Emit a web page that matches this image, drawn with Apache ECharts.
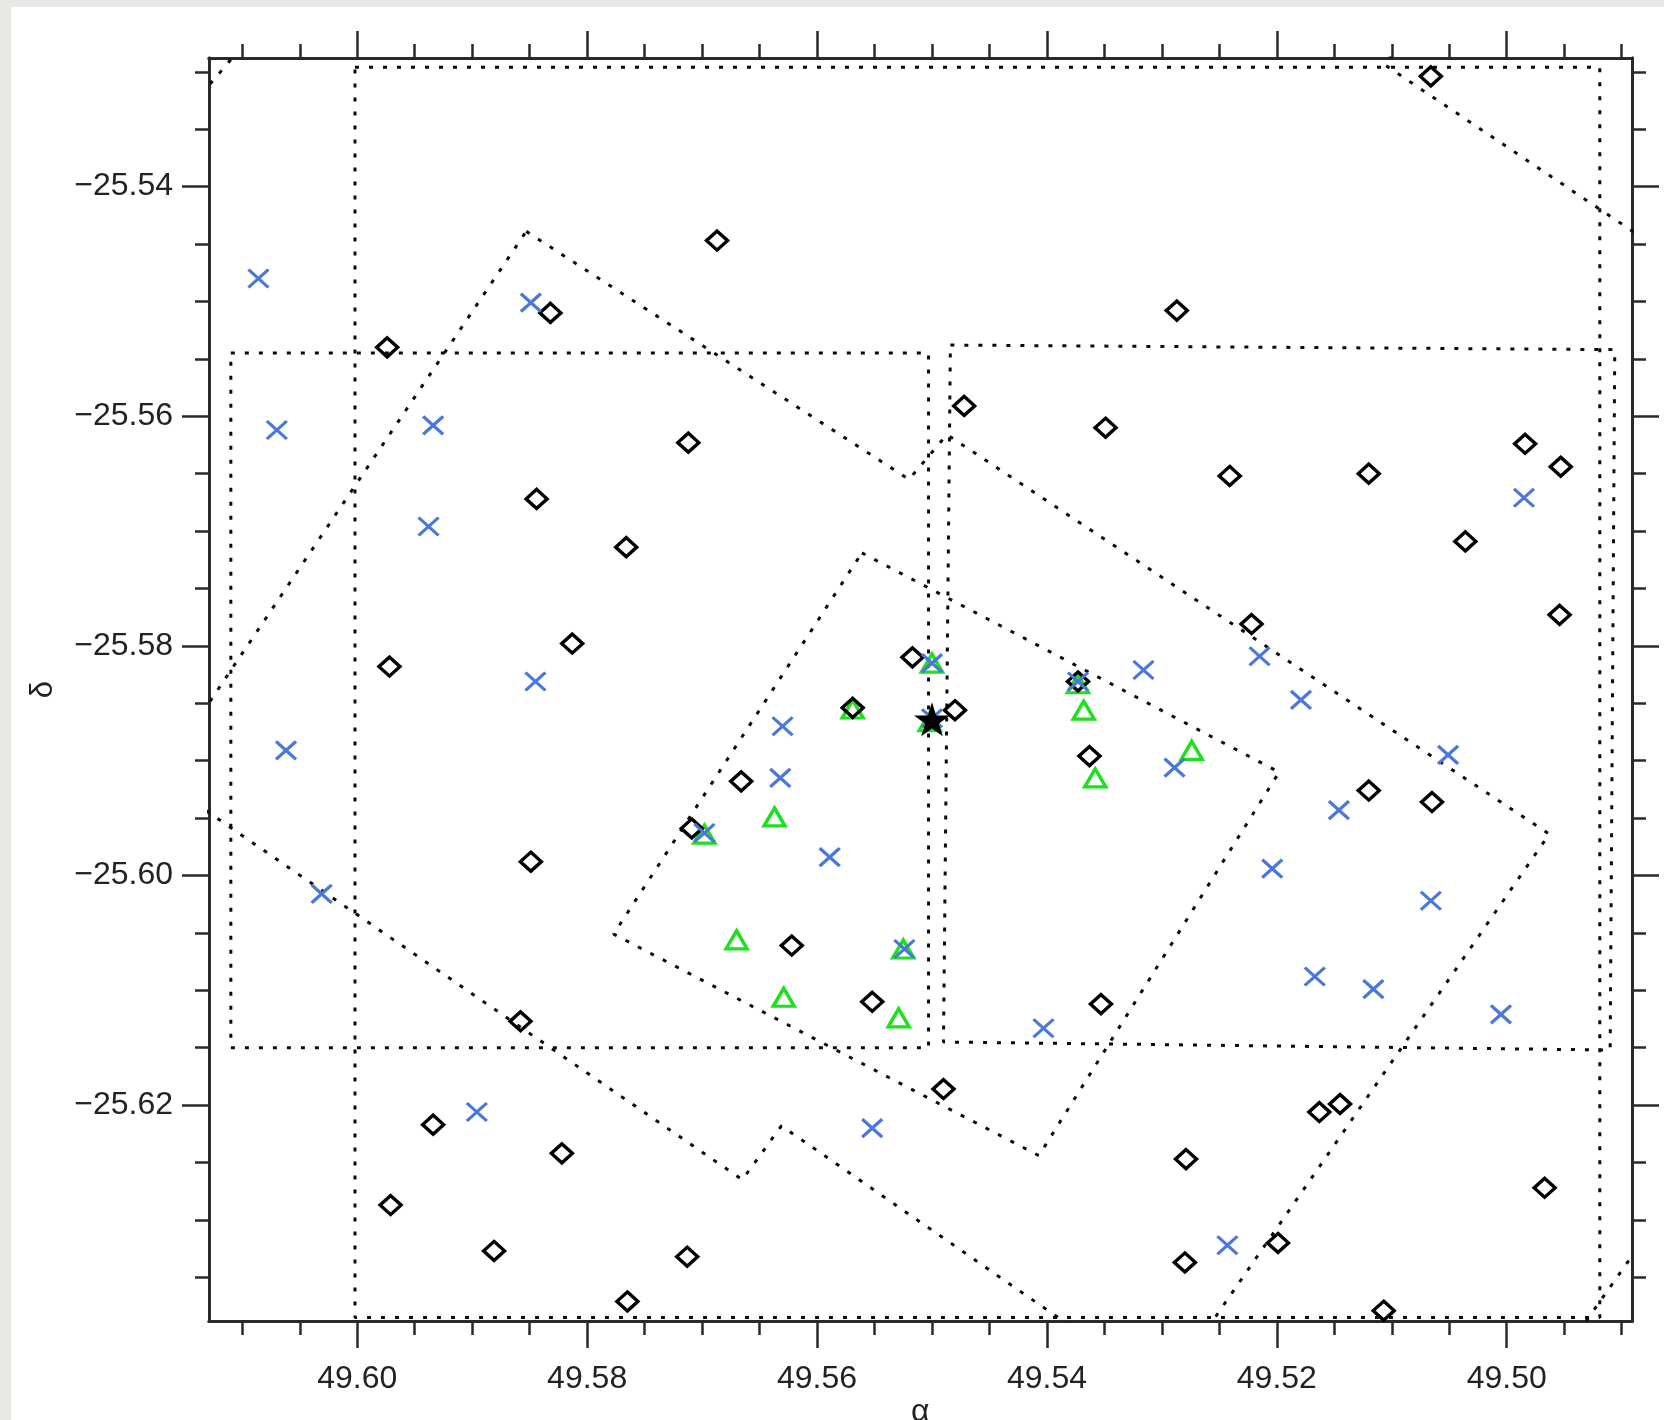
<!DOCTYPE html>
<html>
<head>
<meta charset="utf-8">
<script src="https://cdn.jsdelivr.net/npm/echarts@6/dist/echarts.min.js"></script>
<style>
  html, body { margin: 0; padding: 0; width: 1664px; height: 1420px; background: #e8e8e5; overflow: hidden; }
  #sheet { position: absolute; left: 11px; top: 7px; width: 1653px; height: 1413px; background: #ffffff; }
  #chart { position: absolute; left: 0; top: 0; width: 1664px; height: 1420px; }
</style>
</head>
<body>
<div id="sheet"></div>
<div id="chart"></div>
<script>
// Sky positions (RA, Dec in degrees)
const diamonds = [
  [49.5066, -25.5304], [49.5687, -25.5447], [49.5832, -25.5510], [49.5287, -25.5508],
  [49.5974, -25.5540], [49.5472, -25.5591], [49.5349, -25.5610], [49.5712, -25.5623],
  [49.4984, -25.5624], [49.4953, -25.5644], [49.5241, -25.5652], [49.5120, -25.5650],
  [49.5844, -25.5672], [49.5766, -25.5714], [49.5036, -25.5709], [49.5222, -25.5781],
  [49.4954, -25.5773], [49.5813, -25.5798], [49.5972, -25.5818], [49.5517, -25.5810],
  [49.5569, -25.5854], [49.5480, -25.5856], [49.5373, -25.5831], [49.5363, -25.5896],
  [49.5666, -25.5918], [49.5120, -25.5926], [49.5065, -25.5936], [49.5709, -25.5959],
  [49.5849, -25.5988], [49.5622, -25.6061], [49.5552, -25.6110], [49.5353, -25.6112],
  [49.5858, -25.6127], [49.5490, -25.6186], [49.5934, -25.6217], [49.5822, -25.6242],
  [49.5163, -25.6206], [49.5145, -25.6199], [49.5279, -25.6247], [49.5971, -25.6287],
  [49.4967, -25.6272], [49.5881, -25.6327], [49.5713, -25.6332], [49.5280, -25.6337],
  [49.5199, -25.6320], [49.5765, -25.6371], [49.5107, -25.6379]
];

const crosses = [
  [49.6086, -25.5480], [49.5849, -25.5501], [49.6070, -25.5612], [49.5934, -25.5608],
  [49.5938, -25.5696], [49.5845, -25.5831], [49.6062, -25.5891], [49.6031, -25.6016],
  [49.5630, -25.5870], [49.5632, -25.5915], [49.5589, -25.5984], [49.5500, -25.5815],
  [49.5698, -25.5963], [49.5524, -25.6064], [49.5373, -25.5831], [49.5316, -25.5821],
  [49.5215, -25.5809], [49.5179, -25.5847], [49.5289, -25.5906], [49.5051, -25.5895],
  [49.5146, -25.5943], [49.5204, -25.5994], [49.5066, -25.6022], [49.4985, -25.5671],
  [49.5167, -25.6088], [49.5116, -25.6099], [49.5005, -25.6121], [49.5403, -25.6133],
  [49.5896, -25.6206], [49.5552, -25.6220], [49.5243, -25.6322], [49.5500, -25.5863]
];

const triangles = [
  [49.5569, -25.5855], [49.5500, -25.5815], [49.5502, -25.5866], [49.5368, -25.5856],
  [49.5358, -25.5915], [49.5274, -25.5891], [49.5637, -25.5949], [49.5698, -25.5964],
  [49.5670, -25.6056], [49.5629, -25.6106], [49.5525, -25.6064], [49.5529, -25.6124],
  [49.5373, -25.5833]
];

const target = [[49.5500, -25.5864]];

// Field outlines (closed polygons / edge fragments)
const mosaicFrame = [[49.6002, -25.5296], [49.4919, -25.5296], [49.4919, -25.6385], [49.6002, -25.6385], [49.6002, -25.5296]];
const fieldWest = [[49.6110, -25.5545], [49.5503, -25.5545], [49.5503, -25.6150], [49.6110, -25.6150], [49.6110, -25.5545]];
const fieldEast = [[49.5484, -25.5538], [49.4906, -25.5542], [49.4910, -25.6152], [49.5490, -25.6145], [49.5484, -25.5538]];
const tiltedInner = [[49.5561, -25.5719], [49.5198, -25.5910], [49.5407, -25.6244], [49.5777, -25.6051], [49.5561, -25.5719]];
const tiltedOuter = [
  [49.5853, -25.5439], [49.5520, -25.5655], [49.5487, -25.5616], [49.4963, -25.5964],
  [49.5298, -25.6449], [49.5631, -25.6218], [49.5665, -25.6265], [49.6173, -25.5915],
  [49.5853, -25.5439]
];
const edgeNW = [[49.6136, -25.5320], [49.6102, -25.5280]];
const edgeNE = [[49.5100, -25.5285], [49.5106, -25.5294], [49.4871, -25.5452]];
const edgeSE = [[49.4945, -25.6408], [49.4871, -25.6303]];

// Tick positions and labels
const raTicks = [49.50, 49.52, 49.54, 49.56, 49.58, 49.60];
const raMinorTicks = [49.49, 49.495, 49.50, 49.505, 49.51, 49.515, 49.52, 49.525, 49.53, 49.535,
  49.54, 49.545, 49.55, 49.555, 49.56, 49.565, 49.57, 49.575, 49.58, 49.585, 49.59, 49.595,
  49.60, 49.605, 49.61];
const decTicks = [-25.62, -25.60, -25.58, -25.56, -25.54];
const decMinorTicks = [-25.635, -25.63, -25.625, -25.62, -25.615, -25.61, -25.605, -25.60,
  -25.595, -25.59, -25.585, -25.58, -25.575, -25.57, -25.565, -25.56, -25.555, -25.55,
  -25.545, -25.54, -25.535, -25.53];

const RA_RANGE = [49.4891, 49.6129];
const DEC_RANGE = [-25.6388, -25.5288];

const FONT = '"Liberation Sans", Arial, Helvetica, sans-serif';
const AXIS_COLOR = '#2a2a2a';

function raAxis(position, ticks, len, withLabels) {
  return {
    type: 'value', position, min: RA_RANGE[0], max: RA_RANGE[1], inverse: true,
    axisLine: { show: true, onZero: false, lineStyle: { color: AXIS_COLOR, width: 3 } },
    axisTick: { show: true, inside: false, length: len, customValues: ticks,
      lineStyle: { color: AXIS_COLOR, width: 2.5 } },
    axisLabel: withLabels ? {
      show: true, customValues: ticks, margin: 42,
      formatter: v => Number(v).toFixed(2),
      fontFamily: FONT, fontSize: 32, color: '#222'
    } : { show: false },
    splitLine: { show: false }
  };
}

function decAxis(position, ticks, len, withLabels) {
  return {
    type: 'value', position, min: DEC_RANGE[0], max: DEC_RANGE[1],
    axisLine: { show: true, onZero: false, lineStyle: { color: AXIS_COLOR, width: 3 } },
    axisTick: { show: true, inside: false, length: len, customValues: ticks,
      lineStyle: { color: AXIS_COLOR, width: 2.5 } },
    axisLabel: withLabels ? {
      show: true, customValues: ticks, margin: 36,
      formatter: v => '\u2212' + Math.abs(Number(v)).toFixed(2),
      fontFamily: FONT, fontSize: 32, color: '#222'
    } : { show: false },
    splitLine: { show: false },
    name: withLabels ? 'δ' : '',
    nameLocation: 'middle', nameGap: 150,
    nameTextStyle: { fontFamily: FONT, fontSize: 31, color: '#222' }
  };
}

function outline(data) {
  return {
    type: 'line', data, xAxisIndex: 0, yAxisIndex: 0,
    symbol: 'none', showSymbol: false, smooth: false, clip: true, silent: true, z: 1,
    lineStyle: { color: '#0a0a0a', width: 3, type: [4, 10], cap: 'butt' }
  };
}

const chart = echarts.init(document.getElementById('chart'), null, { renderer: 'canvas' });
chart.setOption({
  backgroundColor: 'transparent',
  animation: false,
  // RA axis title, centred under the plot
  title: {
    text: 'α', left: 911, top: 1396, padding: 0,
    textStyle: { fontFamily: FONT, fontSize: 32, fontWeight: 'normal', color: '#222' }
  },
  grid: { left: 209, right: 32, top: 58, bottom: 99, containLabel: false, outerBoundsMode: 'none' },
  xAxis: [
    raAxis('bottom', raTicks, 27, true),
    raAxis('bottom', raMinorTicks, 14, false),
    raAxis('top', raTicks, 27, false),
    raAxis('top', raMinorTicks, 14, false)
  ],
  yAxis: [
    decAxis('left', decTicks, 27, true),
    decAxis('left', decMinorTicks, 14, false),
    decAxis('right', decTicks, 27, false),
    decAxis('right', decMinorTicks, 14, false)
  ],
  series: [
    outline(mosaicFrame),
    outline(fieldWest),
    outline(fieldEast),
    outline(tiltedInner),
    outline(tiltedOuter),
    outline(edgeNW),
    outline(edgeNE),
    outline(edgeSE),
    {
      type: 'scatter', data: triangles, silent: true, z: 2,
      symbol: 'triangle', symbolSize: [21, 18],
      itemStyle: { color: 'rgba(0,0,0,0)', borderColor: '#1fe01f', borderWidth: 3.4, opacity: 1 }
    },
    {
      type: 'scatter', data: diamonds, silent: true, z: 3,
      symbol: 'diamond', symbolSize: [21, 19],
      itemStyle: { color: 'rgba(0,0,0,0)', borderColor: '#000', borderWidth: 3.4, opacity: 1 }
    },
    {
      type: 'scatter', data: crosses, silent: true, z: 4,
      symbol: 'path://M0,0L20,20M20,0L0,20', symbolSize: [20, 18],
      itemStyle: { color: 'rgba(0,0,0,0)', borderColor: '#4a78da', borderWidth: 3.2, opacity: 1 }
    },
    {
      type: 'scatter', data: target, silent: true, z: 5,
      symbol: 'path://M50,0L61,35L98,35L68,57L79,91L50,70L21,91L32,57L2,35L39,35Z',
      symbolSize: [36, 34],
      itemStyle: { color: '#000', opacity: 1 }
    }
  ]
});
</script>
</body>
</html>
